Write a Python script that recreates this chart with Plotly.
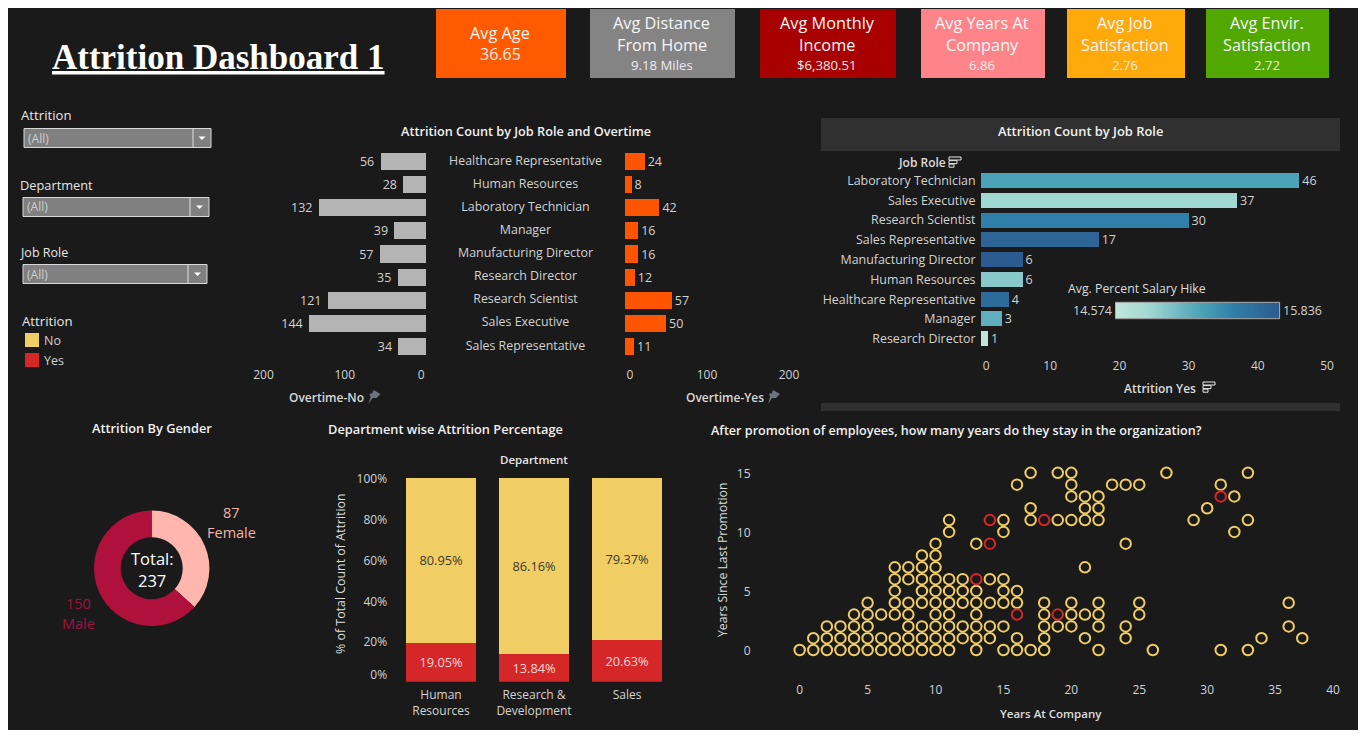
import plotly.graph_objects as go

# ---------- data ----------
roles = ["Healthcare Representative", "Human Resources", "Laboratory Technician", "Manager",
         "Manufacturing Director", "Research Director", "Research Scientist", "Sales Executive",
         "Sales Representative"]
overtime_no = [56, 28, 132, 39, 57, 35, 121, 144, 34]
overtime_yes = [24, 8, 42, 16, 16, 12, 57, 50, 11]

sorted_roles = ["Laboratory Technician", "Sales Executive", "Research Scientist", "Sales Representative",
                "Manufacturing Director", "Human Resources", "Healthcare Representative", "Manager",
                "Research Director"]
attrition_yes = [46, 37, 30, 17, 6, 6, 4, 3, 1]
salary_hike = [15.23, 14.83, 15.48, 15.74, 15.836, 14.95, 15.68, 15.14, 14.574]
hike_range = [14.574, 15.836]

genders = ["Female", "Male"]
gender_counts = [87, 150]

departments = ["Human<br>Resources", "Research &<br>Development", "Sales"]
dept_yes = [19.05, 13.84, 20.63]
dept_no = [80.95, 86.16, 79.37]

promo0 = [0, 1, 2, 3, 4, 5, 6, 7, 8, 9, 10, 11, 13, 15, 16, 17, 18, 22, 26, 31, 33]
promo1 = [1, 2, 3, 4, 5, 6, 7, 8, 9, 10, 11, 12, 13, 14, 16, 18, 21, 24, 34, 37]
promo2 = [2, 3, 4, 5, 8, 9, 10, 11, 12, 13, 14, 15, 18, 19, 20, 22, 24, 36]
promo3 = [4, 5, 6, 7, 8, 10, 11, 13, 18, 20, 21, 22, 25]
promo4 = [5, 7, 8, 9, 10, 11, 12, 13, 14, 15, 16, 18, 20, 22, 25, 36]
promo5 = [7, 9, 10, 11, 12, 13, 15, 16]
promo6 = [7, 8, 9, 10, 11, 12, 14, 15]
promo7 = [7, 8, 9, 10, 21]
promo8 = [9, 10]
promo9 = [10, 13, 24]
promo10 = [11, 15, 32]
promo11 = [11, 15, 17, 19, 20, 21, 22, 29, 33]
promo12 = [17, 21, 22, 30]
promo13 = [20, 21, 22, 32]
promo14 = [16, 20, 23, 24, 25, 31]
promo15 = [17, 19, 20, 27, 33]
yes_years = [16, 19, 13, 14, 14, 18, 31]
yes_promo = [3, 3, 6, 9, 11, 11, 13]

kpi_cards = [
    ("Avg Age", "36.65"), ("Avg Distance<br>From Home", "9.18 Miles"), ("Avg Monthly<br>Income", "$6,380.51"),
    ("Avg Years At<br>Company", "6.86"), ("Avg Job<br>Satisfaction", "2.76"), ("Avg Envir.<br>Satisfaction", "2.72"),
]
kpi_colors = ["#ff5a00", "#848484", "#a80000", "#ff8489", "#ffa90a", "#50a800"]
kpi_edges = [(436, 566), (590, 735), (760, 896), (921, 1045), (1067, 1185), (1206, 1329)]

# ---------- style & helpers ----------
W, H = 1350, 722
BG = "#1a1a1a"
FONT = "Open Sans"
TXT = "#d2d2d2"
YEL = "#f1ce63"
RED = "#d62728"
HIKE_SCALE = [[0, "#c0e6db"], [0.2, "#a3d8d2"], [0.52, "#4ba3b8"], [0.72, "#2f7fa8"], [1, "#2c5b90"]]


def px(x):
    return (x - 8) / W


def py(y):
    return 1 - (y - 8) / H


def dx(a, b):
    return [px(a), px(b)]


def dy(top, bottom):
    return [py(bottom), py(top)]


anns, shapes = [], []


def T(x, y, text, size=12, color=TXT, anchor="center", angle=0, family=FONT, weight=400):
    anns.append(dict(x=px(x), y=py(y), xref="paper", yref="paper", text=text, showarrow=False,
                     xanchor=anchor, yanchor="middle", textangle=angle, borderpad=0, borderwidth=0,
                     font=dict(size=size, color=color, family=family, weight=weight)))


def R(x0, y0, x1, y1, fill, line=None, lw=0, layer="below"):
    shapes.append(dict(type="rect", xref="paper", yref="paper", x0=px(x0), x1=px(x1), y0=py(y0), y1=py(y1),
                       fillcolor=fill, line=dict(color=line or fill, width=lw), layer=layer))


def P(points, fill):
    path = "M " + " L ".join(f"{px(a):.5f},{py(b):.5f}" for a, b in points) + " Z"
    shapes.append(dict(type="path", xref="paper", yref="paper", path=path, fillcolor=fill, line=dict(width=0)))


def sort_icon(x, y):
    for i, w in enumerate([12, 8, 5]):
        shapes.append(dict(type="rect", xref="paper", yref="paper", x0=px(x), x1=px(x + w),
                           y0=py(y + i * 3.6), y1=py(y + i * 3.6 + 3), fillcolor=BG,
                           line=dict(color="#e8e8e8", width=1)))


def pin(x, y):
    c = "#6f7380"
    P([(x - 1, y - 7), (x + 6, y - 3), (x + 4, y - 1), (x + 2, y + 1), (x - 2, y + 1), (x - 6, y + 7),
       (x - 4, y + 0), (x - 5, y - 3), (x - 2, y - 4)], c)


def dropdown(x0, x1, div, y0, y1):
    R(x0, y0, x1, y1, "#808080", "#d8d8d8", 1)
    shapes.append(dict(type="line", xref="paper", yref="paper", x0=px(div), x1=px(div), y0=py(y0), y1=py(y1),
                       line=dict(color="#e0e0e0", width=1)))
    c = (div + x1) / 2
    m = (y0 + y1) / 2
    P([(c - 3.5, m - 1.5), (c + 3.5, m - 1.5), (c, m + 2)], "#ffffff")
    T(x0 + 4, m, "(All)", 12, "#cfcfcf", "left")


# ---------- layout furniture ----------
T(218.5, 57, "<b><u>Attrition Dashboard 1</u></b>", 35, "#ffffff", family="Liberation Serif")

for (x0, x1), col, (lab, val) in zip(kpi_edges, kpi_colors, kpi_cards):
    R(x0, 9, x1, 78, col)
    c = (x0 + x1) / 2 - 1
    if "<br>" in lab:
        a, b = lab.split("<br>")
        T(c, 23.5, a, 16.3, "#f6f6f6")
        T(c, 45, b, 16.3, "#f6f6f6")
        T(c, 65, val, 13.2, "#ececec")
    else:
        T(c, 33, lab, 16.3, "#f6f6f6")
        T(c, 53.5, val, 16, "#ececec")

T(21, 115.5, "Attrition", 13.2, "#e6e6e6", "left")
dropdown(24, 211, 193, 128.5, 147.5)
T(20, 185, "Department", 12.8, "#e6e6e6", "left")
dropdown(23, 209, 190, 197.5, 216.5)
T(20, 252, "Job Role", 12.5, "#e6e6e6", "left")
dropdown(23, 207, 188, 264.5, 283.5)
T(22, 320.5, "Attrition", 13.2, "#e6e6e6", "left")
R(25, 333, 39, 347, YEL)
R(25, 353, 39, 367, RED)
T(44, 340.5, "No", 12.5, TXT, "left")
T(44, 360.5, "Yes", 12.5, TXT, "left")

T(525.5, 131, "Attrition Count by Job Role and Overtime", 12.7, "#f0f0f0", weight=600)
T(326.5, 398, "Overtime-No", 12, "#d8d8d8", weight=600)
T(724.7, 398, "Overtime-Yes", 12, "#d8d8d8", weight=600)
pin(374.5, 397)
pin(774, 397)

R(821, 118, 1340, 151, "#303030")
R(821, 403, 1340, 411, "#303030")
T(1080.5, 131.5, "Attrition Count by Job Role", 12.9, "#f0f0f0", weight=600)
T(945.5, 162.5, "Job Role", 12, "#dddddd", "right", weight=600)
sort_icon(949, 157)
T(1160, 388, "Attrition Yes", 12, "#dddddd", weight=600)
sort_icon(1203, 382)
T(1068, 288.5, "Avg. Percent Salary Hike", 12.3, "#dddddd", "left")
T(1112, 310.5, "14.574", 12.5, TXT, "right")
T(1283, 310.5, "15.836", 12.5, TXT, "left")
R(1115.5, 302.3, 1279.6, 318.7, "rgba(0,0,0,0)", "#b0b0b0", 1, "above")

T(152, 428, "Attrition By Gender", 12.8, "#f0f0f0", weight=600)
T(231, 512, "87", 14.5, "#f2b3a8")
T(231, 532.5, "Female", 14.5, "#f2b3a8")
T(78, 603.5, "150", 14.5, "#a3123f")
T(78, 623.5, "Male", 14.5, "#a3123f")
T(152, 558, "Total:", 16.5, "#ffffff")
T(151.5, 580, "237", 16.5, "#ffffff")

T(445.5, 428.5, "Department wise Attrition Percentage", 12.8, "#f0f0f0", weight=600)
T(534, 459, "Department", 11.5, "#e6e6e6", weight=600)
T(340, 574, "% of Total Count of Attrition", 12.4, "#dddddd", angle=-90)

T(956.5, 430.5, "After promotion of employees, how many years do they stay in the organization?", 12.6, "#f0f0f0", weight=600)
T(722, 560, "Years Since Last Promotion", 12.2, "#dddddd", angle=-90)
T(1051, 713, "Years At Company", 11.5, "#dddddd", weight=600)

# ---------- traces ----------
fig = go.Figure()
tf = dict(size=12, color=TXT, family=FONT)
rolef = dict(size=12.4, color=TXT, family=FONT)
barlab = dict(size=12.5, color=TXT, family=FONT)

fig.add_trace(go.Bar(y=roles, x=overtime_no, orientation="h", marker=dict(color="#b4b4b4", line=dict(width=0)),
                     text=[f"{v}\u00a0" for v in overtime_no], textposition="outside", cliponaxis=False,
                     textfont=barlab, constraintext="none",
                     xaxis="x", yaxis="y", width=0.74, showlegend=False))
fig.add_trace(go.Bar(y=roles, x=overtime_yes, orientation="h", marker=dict(color="#ff5500", line=dict(width=0)),
                     text=overtime_yes, textposition="outside", cliponaxis=False, textfont=barlab, constraintext="none",
                     xaxis="x2", yaxis="y2", width=0.74, showlegend=False))
fig.add_trace(go.Scatter(x=[0] * len(roles), y=roles, mode="text", text=roles, textposition="middle center",
                         textfont=rolef, xaxis="x3", yaxis="y3", showlegend=False, cliponaxis=False))

fig.add_trace(go.Bar(y=sorted_roles, x=attrition_yes, orientation="h", text=attrition_yes, textposition="outside",
                     cliponaxis=False, textfont=barlab, constraintext="none", xaxis="x4", yaxis="y4", width=0.76,
                     showlegend=False,
                     marker=dict(color=salary_hike, cmin=hike_range[0], cmax=hike_range[1], line=dict(width=0),
                                 colorscale=HIKE_SCALE, showscale=False)))
fig.add_trace(go.Heatmap(z=[hike_range], x=[0, 1], y=[0], zmin=hike_range[0], zmax=hike_range[1], zsmooth="best",
                         colorscale=HIKE_SCALE, showscale=False, xaxis="x7", yaxis="y7"))

fig.add_trace(go.Pie(labels=genders, values=gender_counts, hole=0.537, sort=False, direction="clockwise",
                     rotation=0, marker=dict(colors=["#ffb6ad", "#b0103c"], line=dict(width=0)),
                     textinfo="none", showlegend=False,
                     domain=dict(x=dx(94, 209.4), y=dy(510.6, 626))))

fig.add_trace(go.Bar(x=departments, y=dept_yes, marker=dict(color=RED, line=dict(width=0)), width=70 / 93,
                     text=[f"{v:.2f}%" for v in dept_yes], textposition="inside", insidetextanchor="middle",
                     textangle=0, constraintext="none", textfont=dict(size=12.8, color="#f6d5d5", family=FONT),
                     xaxis="x5", yaxis="y5", showlegend=False))
fig.add_trace(go.Bar(x=departments, y=dept_no, marker=dict(color=YEL, line=dict(width=0)), width=70 / 93,
                     text=[f"{v:.2f}%" for v in dept_no], textposition="inside", insidetextanchor="middle",
                     textangle=0, constraintext="none", textfont=dict(size=12.8, color="#3a3a30", family=FONT),
                     xaxis="x5", yaxis="y5", showlegend=False))

promo_rows = [promo0, promo1, promo2, promo3, promo4, promo5, promo6, promo7, promo8, promo9, promo10,
              promo11, promo12, promo13, promo14, promo15]
no_years = [yr for row in promo_rows for yr in row]
no_promo = [i for i, row in enumerate(promo_rows) for _ in row]
fig.add_trace(go.Scatter(x=no_years, y=no_promo, mode="markers", xaxis="x6", yaxis="y6", showlegend=False,
                         marker=dict(symbol="circle-open", size=10.5, color=YEL, line=dict(width=2, color=YEL))))
fig.add_trace(go.Scatter(x=yes_years, y=yes_promo, mode="markers", xaxis="x6", yaxis="y6", showlegend=False,
                         marker=dict(symbol="circle-open", size=10.5, color=RED, line=dict(width=2, color=RED))))

# ---------- axes ----------
base = dict(showgrid=False, zeroline=False, showline=False, tickfont=tf, automargin=False)
hidden = dict(showgrid=False, zeroline=False, showline=False, showticklabels=False, ticks="", automargin=False)
role_y = dict(type="category", categoryorder="array", categoryarray=roles, range=[8.5, -0.5])


def xtick(n):
    return dict(ticks="outside", ticklen=n, tickcolor=BG, tickwidth=1)


fig.update_layout(
    template="none", width=W, height=H, autosize=False, margin=dict(l=0, r=0, t=0, b=0),
    paper_bgcolor=BG, plot_bgcolor=BG, barmode="stack", bargap=0.25,
    font=dict(family=FONT, color=TXT), shapes=shapes, annotations=anns, hovermode=False,
    xaxis=dict(base, domain=dx(263.5, 426), range=[200, 0], tickmode="array", tickvals=[200, 100, 6],
               ticktext=["200", "100", "0"], anchor="y", **xtick(6)),
    yaxis=dict(hidden, domain=dy(150, 358), anchor="x", **role_y),
    xaxis2=dict(base, domain=dx(625, 789), range=[0, 200], tickmode="array", tickvals=[6, 100, 200],
                ticktext=["0", "100", "200"], anchor="y2", **xtick(6)),
    yaxis2=dict(hidden, domain=dy(150, 358), anchor="x2", **role_y),
    xaxis3=dict(hidden, domain=dx(430, 621), range=[-1, 1], anchor="y3"),
    yaxis3=dict(hidden, domain=dy(150, 358), anchor="x3", **role_y),
    xaxis4=dict(base, domain=dx(981, 1327), range=[0, 50], tickmode="array", tickvals=[0.75, 10, 20, 30, 40, 50],
                ticktext=["0", "10", "20", "30", "40", "50"], anchor="y4", **xtick(6)),
    yaxis4=dict(base, domain=dy(170.6, 348.6), type="category", categoryorder="array", categoryarray=sorted_roles,
                range=[8.5, -0.5], anchor="x4", ticks="outside", ticklen=2, tickcolor=BG,
                tickfont=rolef),
    xaxis5=dict(base, domain=dx(394.5, 673.5), type="category", categoryorder="array", categoryarray=departments,
                anchor="y5", range=[-0.5, 2.5], **xtick(2)),
    yaxis5=dict(base, domain=dy(478, 681.7), range=[0, 100], tickmode="array",
                tickvals=[3.5, 19.4, 39.4, 59.4, 79.4, 99.4],
                ticktext=["0%", "20%", "40%", "60%", "80%", "100%"], anchor="x5", ticks="outside", ticklen=4,
                tickcolor=BG),
    xaxis6=dict(base, domain=dx(755, 1343), range=[-3.29, 40], tickmode="array",
                tickvals=[0, 5, 10, 15, 20, 25, 30, 35, 39.27],
                ticktext=["0", "5", "10", "15", "20", "25", "30", "35", "40"], anchor="y6", **xtick(1)),
    yaxis6=dict(base, domain=dy(461, 678), range=[-2.37, 16], tickmode="array",
                tickvals=[-0.08, 4.92, 9.92, 14.92], ticktext=["0", "5", "10", "15"],
                anchor="x6", ticks="outside", ticklen=1, tickcolor=BG),
    xaxis7=dict(hidden, domain=dx(1115.5, 1279.6), range=[0, 1], anchor="y7"),
    yaxis7=dict(hidden, domain=dy(302.3, 318.7), range=[-0.5, 0.5], anchor="x7"),
)

fig.write_html("out.html")
